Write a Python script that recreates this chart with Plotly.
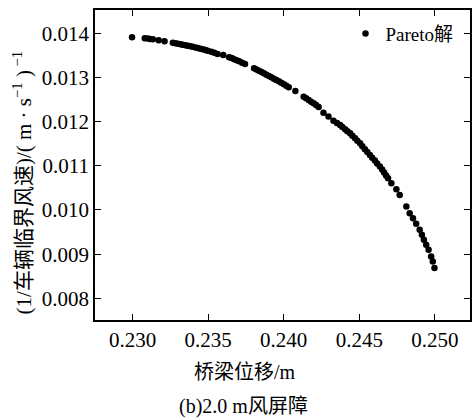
import plotly.graph_objects as go

# Pareto front: bridge displacement (m) vs 1/critical vehicle wind speed
bridge_disp = [
    0.22997, 0.23081, 0.23101, 0.23117, 0.23135, 0.23173, 0.23212, 0.23267,
    0.23284, 0.23300, 0.23317, 0.23332, 0.23350, 0.23365, 0.23383, 0.23398,
    0.23416, 0.23431, 0.23449, 0.23464, 0.23482, 0.23497, 0.23521, 0.23541,
    0.23562, 0.23600, 0.23639, 0.23656, 0.23672, 0.23689, 0.23705, 0.23725,
    0.23744, 0.23804, 0.23820, 0.23836, 0.23853, 0.23869, 0.23886, 0.23902,
    0.23918, 0.23935, 0.23951, 0.23968, 0.23984, 0.24001, 0.24017, 0.24033,
    0.24077, 0.24132, 0.24148, 0.24165, 0.24181, 0.24198, 0.24214, 0.24231,
    0.24263, 0.24296, 0.24329, 0.24352, 0.24373, 0.24388, 0.24406, 0.24421,
    0.24439, 0.24454, 0.24472, 0.24487, 0.24505, 0.24520, 0.24537, 0.24553,
    0.24570, 0.24585, 0.24603, 0.24618, 0.24636, 0.24651, 0.24664, 0.24677,
    0.24690, 0.24712, 0.24745, 0.24767, 0.24811, 0.24833, 0.24855, 0.24876,
    0.24899, 0.24914, 0.24927, 0.24942, 0.24958, 0.24975, 0.24986, 0.24997,
]
inv_wind_speed = [
    0.013910, 0.013887, 0.013882, 0.013871, 0.013864, 0.013842, 0.013819, 0.013787,
    0.013776, 0.013765, 0.013753, 0.013742, 0.013731, 0.013720, 0.013708, 0.013697,
    0.013681, 0.013667, 0.013652, 0.013638, 0.013622, 0.013606, 0.013584, 0.013561,
    0.013532, 0.013509, 0.013457, 0.013441, 0.013412, 0.013389, 0.013367, 0.013335,
    0.013306, 0.013208, 0.013181, 0.013154, 0.013125, 0.013095, 0.013064, 0.013034,
    0.013005, 0.012973, 0.012944, 0.012914, 0.012880, 0.012846, 0.012812, 0.012779,
    0.012695, 0.012566, 0.012530, 0.012491, 0.012453, 0.012417, 0.012378, 0.012333,
    0.012204, 0.012114, 0.012023, 0.011971, 0.011926, 0.011880, 0.011828, 0.011783,
    0.011738, 0.011681, 0.011625, 0.011568, 0.011512, 0.011444, 0.011376, 0.011315,
    0.011247, 0.011184, 0.011118, 0.011050, 0.010983, 0.010915, 0.010847, 0.010783,
    0.010720, 0.010607, 0.010471, 0.010342, 0.010078, 0.009928, 0.009815, 0.009686,
    0.009550, 0.009437, 0.009324, 0.009211, 0.009098, 0.008947, 0.008833, 0.008684,
]
x_ticks = [0.230, 0.235, 0.240, 0.245, 0.250]
y_ticks = [0.008, 0.009, 0.010, 0.011, 0.012, 0.013, 0.014]

series_name = "Pareto解"
x_title = "桥梁位移/m"
y_title = "(1/车辆临界风速)/( m · s<sup>−1</sup> )<sup> −1</sup>"
caption = "(b)2.0 m风屏障"

FONT = "Liberation Serif, Noto Sans CJK SC"

fig = go.Figure()
fig.add_trace(go.Scatter(
    x=bridge_disp, y=inv_wind_speed, mode="markers", name=series_name,
    marker=dict(color="black", size=6.5, line=dict(width=0)),
))

xr = [0.22752, 0.25232]
yr = [0.007509, 0.014528]

fig.update_layout(
    width=472, height=418,
    margin=dict(l=95, r=0, t=10, b=98),
    paper_bgcolor="white", plot_bgcolor="white",
    font=dict(family=FONT, size=20, color="black"),
    showlegend=True,
    legend=dict(x=0.668, y=0.985, xanchor="left", yanchor="top",
                bgcolor="rgba(0,0,0,0)", font=dict(family=FONT, size=19),
                itemwidth=30, tracegroupgap=0),
    xaxis=dict(range=xr, tickvals=x_ticks, tickformat=".3f",
               ticks="inside", ticklen=6, tickwidth=1.2, tickcolor="black",
               showline=True, linecolor="black", linewidth=1.5, mirror="ticks",
               showgrid=False, zeroline=False,
               tickfont=dict(family=FONT, size=21, color="black")),
    yaxis=dict(range=yr, tickvals=y_ticks, tickformat=".3f",
               ticks="inside", ticklen=6, tickwidth=1.2, tickcolor="black",
               showline=True, linecolor="black", linewidth=1.5, mirror="ticks",
               showgrid=False, zeroline=False,
               tickfont=dict(family=FONT, size=21, color="black")),
)

fig.add_annotation(text=x_title, xref="paper", yref="paper",
                   x=(246 - 95) / 377, y=(320 - 372) / 310,
                   xanchor="center", yanchor="middle", showarrow=False,
                   font=dict(family=FONT, size=20))
fig.add_annotation(text=caption, xref="paper", yref="paper",
                   x=(244 - 95) / 377, y=(320 - 406) / 310,
                   xanchor="center", yanchor="middle", showarrow=False,
                   font=dict(family=FONT, size=20))
fig.add_annotation(text=y_title, xref="paper", yref="paper",
                   x=(22 - 95) / 377, y=(320 - 182) / 310, textangle=-90,
                   xanchor="center", yanchor="middle", showarrow=False,
                   font=dict(family=FONT, size=21))

fig.write_html(
    "out.html",
    config={"displayModeBar": False},
    post_script="document.body.style.margin='0';document.body.style.overflow='hidden';",
)
